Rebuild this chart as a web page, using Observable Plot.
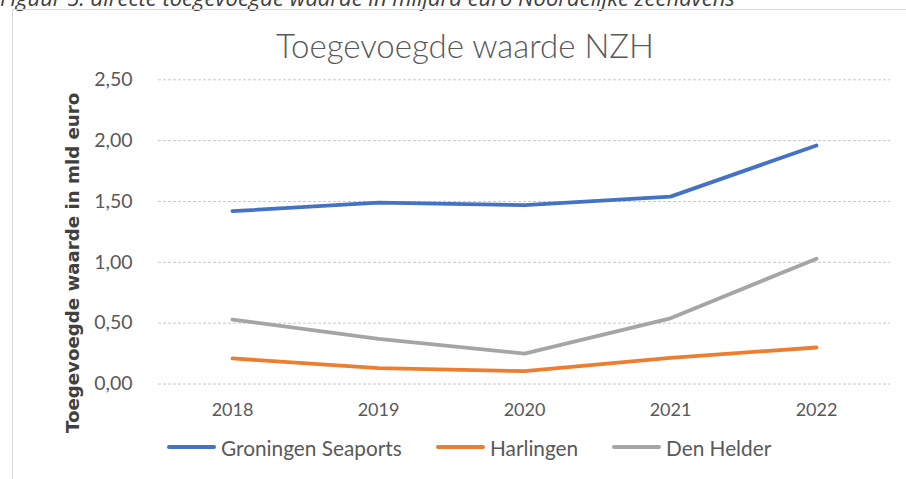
<!DOCTYPE html>
<html>
<head>
<meta charset="utf-8">
<script src="https://cdn.jsdelivr.net/npm/d3@7"></script>
<script src="https://cdn.jsdelivr.net/npm/@observablehq/plot@0.6"></script>
<style>
  html, body { margin: 0; padding: 0; background: #fff; overflow: hidden; }
  body { width: 906px; height: 479px; position: relative; font-family: Lato, "Open Sans", sans-serif; }
  #caption { position: absolute; left: 0; top: -18px; font-size: 22px; font-style: italic; color: #404040; white-space: nowrap; font-family: "Open Sans", sans-serif; }
  #frame { position: absolute; left: 12px; top: 9px; width: 1000px; height: 1000px; border: 1px solid #d9d9d9; box-sizing: border-box; }
  #chart { position: absolute; left: 0; top: 0; }
  #title { position: absolute; left: 0; width: 930px; top: 25px; text-align: center; font-size: 33px; font-weight: 300; color: #595959; white-space: nowrap; }
  .leg { position: absolute; top: 434px; height: 26px; display: flex; align-items: center; font-size: 20.8px; color: #595959; white-space: nowrap; }
  .leg span.sw { display: inline-block; width: 49px; height: 4px; border-radius: 2px; margin-right: 5px; }
</style>
</head>
<body>
<div id="caption">Figuur 5: directe toegevoegde waarde in miljard euro Noordelijke zeehavens</div>
<div id="frame"></div>
<div id="chart"></div>
<div id="title">Toegevoegde waarde NZH</div>
<div id="legend"></div>
<script>
const years = ["2018", "2019", "2020", "2021", "2022"];
const seriesNames = ["Groningen Seaports", "Harlingen", "Den Helder"];
const groningen = [1.42, 1.49, 1.47, 1.54, 1.96];
const harlingen = [0.21, 0.13, 0.105, 0.215, 0.30];
const denHelder = [0.53, 0.37, 0.25, 0.54, 1.03];
const colors = ["#4472c4", "#ed7d31", "#a5a5a5"];
const yTicks = [0, 0.5, 1, 1.5, 2, 2.5];

const seriesValues = [groningen, harlingen, denHelder];
const data = [];
seriesNames.forEach((s, i) => years.forEach((y, j) => data.push({series: s, year: y, value: seriesValues[i][j]})));

const fmt = d => d.toFixed(2).replace(".", ",");

const chart = Plot.plot({
  width: 906,
  height: 479,
  marginLeft: 158,
  marginRight: 16,
  marginTop: 79.3,
  marginBottom: 95.5,
  style: { background: "transparent", color: "#595959", fontFamily: "Lato, sans-serif" },
  x: { type: "point", domain: years, padding: 0.5 },
  y: { domain: [0, 2.5] },
  color: { domain: seriesNames, range: colors },
  marks: [
    Plot.gridY(yTicks, { stroke: "#c8c8c8", strokeOpacity: 1, strokeWidth: 1, strokeDasharray: "3,2" }),
    Plot.axisY(yTicks, { tickSize: 0, tickPadding: 26, tickFormat: fmt, fontSize: 19.5, label: null }),
    Plot.axisX({ tickSize: 0, tickPadding: 19, fontSize: 18, label: null }),
    Plot.line(data, { x: "year", y: "value", z: "series", stroke: "series", strokeWidth: 3.8, strokeLinecap: "round", strokeLinejoin: "round" }),
    Plot.text(["Toegevoegde waarde in mld euro"], { frameAnchor: "left", textAnchor: "middle", dx: -85, dy: 31, rotate: -90, fontSize: 18.2, fontWeight: "bold", fontFamily: "DejaVu Sans, sans-serif", fill: "#404040", text: d => d })
  ]
});
document.getElementById("chart").appendChild(chart);

const leg = document.getElementById("legend");
const legLeft = [167, 436, 612];
seriesNames.forEach((s, i) => {
  const d = document.createElement("div");
  d.className = "leg";
  d.style.left = legLeft[i] + "px";
  d.innerHTML = `<span class="sw" style="background:${colors[i]}"></span>${s}`;
  leg.appendChild(d);
});
</script>
</body>
</html>
